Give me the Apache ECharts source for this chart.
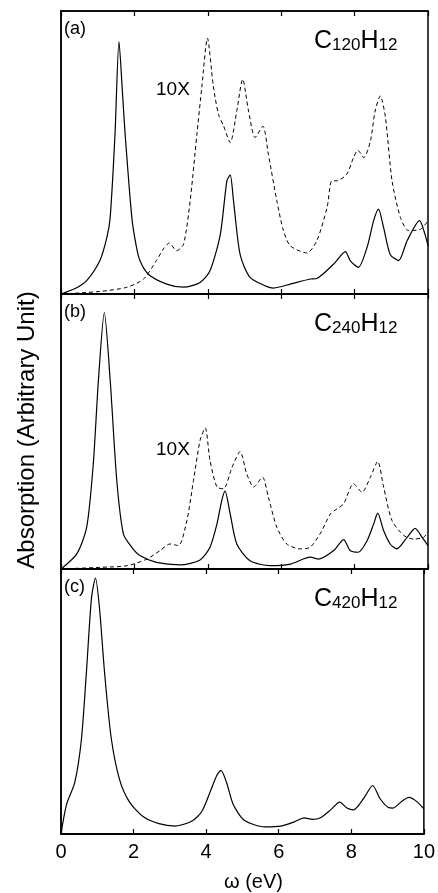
<!DOCTYPE html>
<html>
<head>
<meta charset="utf-8">
<script src="https://cdn.jsdelivr.net/npm/echarts@6/dist/echarts.min.js"></script>
<style>html,body{margin:0;padding:0;background:#fff;}#c{width:438px;height:893px;}</style>
</head>
<body>
<div id="c"></div>
<script>
// x ticks (eV)
const xTicks = [0, 2, 4, 6, 8, 10];
const panelLabels = ['(a)', '(b)', '(c)'];
const molecules = [['120', '12'], ['240', '12'], ['420', '12']];
const scaleLabel = '10X';

// Panel (a) C120H12
const aSolid = [[0,0],[0.4,2],[0.7,4.7],[1.06,11.8],[1.25,20],[1.34,27],[1.47,56],[1.58,89.2],[1.68,70],[1.75,56],[1.93,27],[2.05,17],[2.15,11.8],[2.38,7],[2.88,3.5],[3.34,2.4],[3.79,4.1],[4.06,8.2],[4.34,21],[4.52,40],[4.61,42.1],[4.7,33],[4.88,14],[5.15,5.9],[5.6,2.7],[5.79,2.1],[6.25,3.5],[6.79,5.3],[6.97,5.5],[7.43,10.6],[7.75,15],[7.88,11.8],[8.1,9.4],[8.34,16.5],[8.52,26],[8.65,30],[8.79,23.5],[8.97,14],[9.2,11.8],[9.43,18.8],[9.77,25.9],[9.92,21],[10,17]];
const aDashed = [[0,0],[1.06,0.9],[1.8,2.4],[2.25,5.3],[2.6,11.8],[2.79,15.9],[2.95,18],[3.15,15.3],[3.34,17.6],[3.52,33],[3.7,56],[3.84,73.5],[3.99,90.4],[4.15,73.5],[4.29,63.5],[4.43,59.4],[4.61,53.5],[4.79,64.7],[4.95,75.9],[5.11,64.7],[5.29,55.3],[5.5,59.3],[5.65,49.4],[5.88,33],[6.06,22.4],[6.25,17],[6.7,14.5],[6.97,18.8],[7.25,30.6],[7.38,40],[7.52,40],[7.79,42.4],[7.97,48.2],[8.09,50.8],[8.25,48.2],[8.43,54],[8.56,64.7],[8.7,70],[8.84,62.4],[9.02,40],[9.25,27],[9.47,22.4],[9.8,22.9],[10,25.9]];

// Panel (b) C240H12
const bSolid = [[0,0],[0.43,5.5],[0.7,15.2],[0.88,38.3],[1.02,68.7],[1.18,93.2],[1.34,68.7],[1.52,32.2],[1.7,12.8],[1.93,7.9],[2.15,4.9],[2.6,2.4],[3.25,1.5],[3.79,3.3],[4.06,7.9],[4.25,16.4],[4.38,24.9],[4.47,28.3],[4.61,20],[4.79,9.1],[5.15,3],[5.7,1.2],[6.25,1.8],[6.79,4.3],[7.02,3.6],[7.43,6.7],[7.7,10.7],[7.88,6.7],[8.1,6.1],[8.34,10.3],[8.52,16.4],[8.63,20.3],[8.79,14],[8.97,9.1],[9.15,7.3],[9.43,11.5],[9.65,14.8],[9.84,11.5],[10,8.5]];
const bDashed = [[0,0],[1.06,0.6],[1.8,1.2],[2.34,3.6],[2.7,6.7],[2.97,9.1],[3.2,8.5],[3.43,17.6],[3.61,32.2],[3.79,46.8],[3.93,51.3],[4.06,39.5],[4.25,29.8],[4.43,29.2],[4.66,37],[4.88,42.7],[5.06,34.6],[5.25,29.8],[5.49,33.4],[5.65,26.1],[5.88,15.2],[6.15,9.1],[6.52,7.3],[6.79,7.9],[7.06,12.8],[7.34,20],[7.52,21.9],[7.7,23.7],[7.97,31],[8.2,27.9],[8.43,33.4],[8.63,39.1],[8.79,29.8],[9.02,17.6],[9.34,12.2],[9.61,10.9],[9.88,11.5],[10,13.4]];

// Panel (c) C420H12
const cSolid = [[0,0],[0.15,11],[0.38,19.5],[0.56,35.4],[0.7,61],[0.84,89],[0.95,96.6],[1.06,85.4],[1.2,61],[1.38,36.6],[1.61,20.7],[1.88,12.2],[2.25,6.7],[2.7,3.9],[3.15,3],[3.61,4.9],[3.88,8.5],[4.11,15.9],[4.29,22],[4.41,24],[4.56,19.5],[4.75,11],[5.06,5.1],[5.61,2.7],[6.06,3],[6.43,4.6],[6.7,6.1],[6.93,5.5],[7.15,6.1],[7.43,9.1],[7.68,12],[7.88,9.8],[8.06,9.1],[8.34,13.4],[8.59,18.3],[8.79,13.4],[9.02,10],[9.15,9.8],[9.38,12.2],[9.59,13.8],[9.79,12.4],[10,9.5]];

const font = '"Liberation Sans", Arial, Helvetica, sans-serif';
const grids = [
  {left: 61, right: 10, top: 11, height: 283},
  {left: 61, right: 10, top: 294, height: 275},
  {left: 61, right: 10, top: 569, height: 275}
];
const xAxes = [], yAxes = [];
grids.forEach((g, i) => {
  g.show = true; g.borderColor = '#000'; g.borderWidth = 1.5;
  xAxes.push({
    type: 'value', gridIndex: i, min: 0, max: 10, interval: 2, position: 'bottom',
    axisLine: {show: true, lineStyle: {color: '#000', width: 1.8}},
    axisTick: {show: true, inside: true, length: 5, lineStyle: {color: '#000', width: 1.2}},
    axisLabel: {show: i === 2, color: '#000', fontSize: 20, fontFamily: font, margin: 8,
      formatter: v => xTicks.indexOf(v) >= 0 ? String(v) : ''},
    splitLine: {show: false},
    name: i === 2 ? 'ω (eV)' : '', nameLocation: 'middle', nameGap: 38,
    nameTextStyle: {color: '#000', fontSize: 20, fontFamily: font, padding: [0, 0, 0, 22]}
  });
  xAxes.push({
    type: 'value', gridIndex: i, min: 0, max: 10, interval: 2, position: 'top',
    axisLine: {show: true, lineStyle: {color: '#000', width: 1.5}},
    axisTick: {show: true, inside: true, length: 5, lineStyle: {color: '#000', width: 1.2}},
    axisLabel: {show: false}, splitLine: {show: false}
  });
  yAxes.push({
    type: 'value', gridIndex: i, min: 0, max: 100,
    axisLine: {show: true, lineStyle: {color: '#000', width: 1.5}},
    axisTick: {show: false}, axisLabel: {show: false}, splitLine: {show: false}
  });
});

function line(data, gi, dashed) {
  return {
    type: 'line', xAxisIndex: gi * 2, yAxisIndex: gi, data: data,
    showSymbol: false, smooth: 0.25, silent: true,
    lineStyle: {color: '#000', width: dashed ? 1 : 1.2, type: dashed ? [4, 3] : 'solid'}
  };
}

const graphics = [];
const tops = [11, 294, 569];
tops.forEach((t, i) => {
  graphics.push({type: 'text', left: 64, top: t + 9,
    style: {text: panelLabels[i], fontSize: 18, fontFamily: font, fill: '#000'}});
  graphics.push({type: 'text', left: 314, top: t + 18,
    style: {text: '{c|C}{s|' + molecules[i][0] + '}{c|H}{s|' + molecules[i][1] + '}',
      fontFamily: font, fill: '#000',
      rich: {c: {fontSize: 25, fontFamily: font, verticalAlign: 'bottom', lineHeight: 28},
             s: {fontSize: 17, fontFamily: font, verticalAlign: 'bottom', lineHeight: 24}}}});
});
graphics.push({type: 'text', left: 156, top: 80, style: {text: scaleLabel, fontSize: 19, fontFamily: font, fill: '#000'}});
graphics.push({type: 'text', left: 156, top: 440, style: {text: scaleLabel, fontSize: 19, fontFamily: font, fill: '#000'}});
graphics.push({type: 'text', x: 27, y: 430, rotation: Math.PI / 2,
  style: {text: 'Absorption (Arbitrary Unit)', fontSize: 24, fontFamily: font, fill: '#000',
    align: 'center', verticalAlign: 'middle'}});

const chart = echarts.init(document.getElementById('c'), null, {renderer: 'canvas'});
chart.setOption({
  animation: false,
  backgroundColor: '#fff',
  grid: grids,
  xAxis: xAxes,
  yAxis: yAxes,
  series: [line(aSolid, 0, false), line(aDashed, 0, true), line(bSolid, 1, false), line(bDashed, 1, true), line(cSolid, 2, false)],
  graphic: graphics
});
</script>
</body>
</html>
